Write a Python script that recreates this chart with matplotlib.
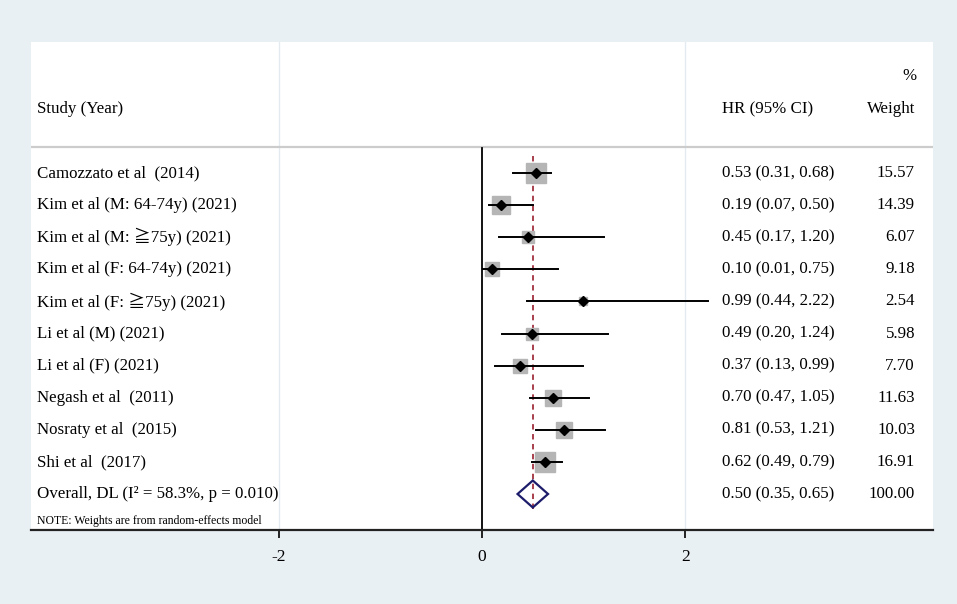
import numpy as np
import matplotlib.pyplot as plt
from matplotlib.transforms import blended_transform_factory
from matplotlib.patches import Polygon

plt.rcParams['font.family'] = ['Liberation Serif', 'DejaVu Serif',
                               'Noto Sans CJK JP']

# study data
studies = ["Camozzato et al  (2014)", "Kim et al (M: 64-74y) (2021)",
           "Kim et al (M: \u226775y) (2021)", "Kim et al (F: 64-74y) (2021)",
           "Kim et al (F: \u226775y) (2021)", "Li et al (M) (2021)",
           "Li et al (F) (2021)", "Negash et al  (2011)",
           "Nosraty et al  (2015)", "Shi et al  (2017)"]
hr = [0.53, 0.19, 0.45, 0.10, 0.99, 0.49, 0.37, 0.70, 0.81, 0.62]
lo = [0.31, 0.07, 0.17, 0.01, 0.44, 0.20, 0.13, 0.47, 0.53, 0.49]
hi = [0.68, 0.50, 1.20, 0.75, 2.22, 1.24, 0.99, 1.05, 1.21, 0.79]
weight = [15.57, 14.39, 6.07, 9.18, 2.54, 5.98, 7.70, 11.63, 10.03, 16.91]

overall_label = "Overall, DL (I\u00b2 = 58.3%, p = 0.010)"
overall_hr, overall_lo, overall_hi = 0.50, 0.35, 0.65
overall_weight = 100.00

xticks = [-2, 0, 2]

bg = '#e9f0f4'
fig = plt.figure(figsize=(9.57, 6.04), dpi=100, facecolor=bg)
W, H = 957, 604
ax = fig.add_axes([31 / W, (H - 530) / H, 902 / W, 488 / H])
ax.set_facecolor('white')

row_px = 32.1
y0 = 173
def prow(p):
    return (p - y0) / row_px

ax.set_xlim(-4.44, 4.44)
ax.set_ylim(prow(530), prow(42))

n = len(studies)
rows = np.arange(n)
orow = n

# faint grid lines
for xv in [-2, 2]:
    ax.axvline(xv, color='#e3ebf0', lw=1, zorder=0)

# header separator
ax.axhline(prow(147), color='#cccccc', lw=1.6, zorder=1)

# null line
ax.plot([0, 0], [prow(148), prow(530)], color='black', lw=1.3, zorder=2)

# overall dashed line
ax.plot([overall_hr, overall_hr], [prow(156), prow(512)], color='#a3303f',
        lw=1.3, ls=(0, (3, 2.5)), zorder=2)

# weight squares, CI lines, points
for i in range(n):
    side_pt = 4.9 * np.sqrt(weight[i]) * 0.72
    ax.plot(hr[i], rows[i], marker='s', ms=side_pt, color='#b5b5b5',
            mec='#b5b5b5', zorder=3)
    ax.plot([lo[i], hi[i]], [rows[i], rows[i]], color='black', lw=1.4,
            zorder=4)
    ax.plot(hr[i], rows[i], marker='D', ms=5, color='black', zorder=5)

# overall diamond
hh = 0.42
diamond = Polygon([[overall_lo, orow], [overall_hr, orow - hh],
                   [overall_hi, orow], [overall_hr, orow + hh]],
                  closed=True, fill=False, ec='#1c1c6b', lw=1.6, zorder=5)
ax.add_patch(diamond)

# text columns
tr = blended_transform_factory(ax.transAxes, ax.transData)
fs = 12.2
ax.text(0.0067, prow(109), "Study (Year)", transform=tr, fontsize=fs,
        va='center', ha='left')
ax.text(0.766, prow(109), "HR (95% CI)", transform=tr, fontsize=fs,
        va='center', ha='left')
ax.text(0.980, prow(109), "Weight", transform=tr, fontsize=fs,
        va='center', ha='right')
ax.text(0.982, prow(76), "%", transform=tr, fontsize=fs,
        va='center', ha='right')

for i in range(n):
    ax.text(0.0067, rows[i], studies[i], transform=tr, fontsize=fs,
            va='center', ha='left')
    ax.text(0.766, rows[i], f"{hr[i]:.2f} ({lo[i]:.2f}, {hi[i]:.2f})",
            transform=tr, fontsize=fs, va='center', ha='left')
    ax.text(0.980, rows[i], f"{weight[i]:.2f}", transform=tr, fontsize=fs,
            va='center', ha='right')

ax.text(0.0067, orow, overall_label, transform=tr, fontsize=fs,
        va='center', ha='left')
ax.text(0.766, orow, f"{overall_hr:.2f} ({overall_lo:.2f}, {overall_hi:.2f})",
        transform=tr, fontsize=fs, va='center', ha='left')
ax.text(0.980, orow, f"{overall_weight:.2f}", transform=tr, fontsize=fs,
        va='center', ha='right')
ax.text(0.0067, prow(521), "NOTE: Weights are from random-effects model",
        transform=tr, fontsize=8.5, va='center', ha='left')

# axes styling
for s in ['top', 'left', 'right']:
    ax.spines[s].set_visible(False)
ax.spines['bottom'].set_color('#222222')
ax.spines['bottom'].set_linewidth(1.6)
ax.set_yticks([])
ax.set_xticks(xticks)
ax.set_xticklabels([str(t) for t in xticks])
ax.tick_params(axis='x', direction='out', length=6, width=1.4,
               color='#222222', labelsize=12.5, pad=8)

fig.savefig('out.png', dpi=100, facecolor=bg)
